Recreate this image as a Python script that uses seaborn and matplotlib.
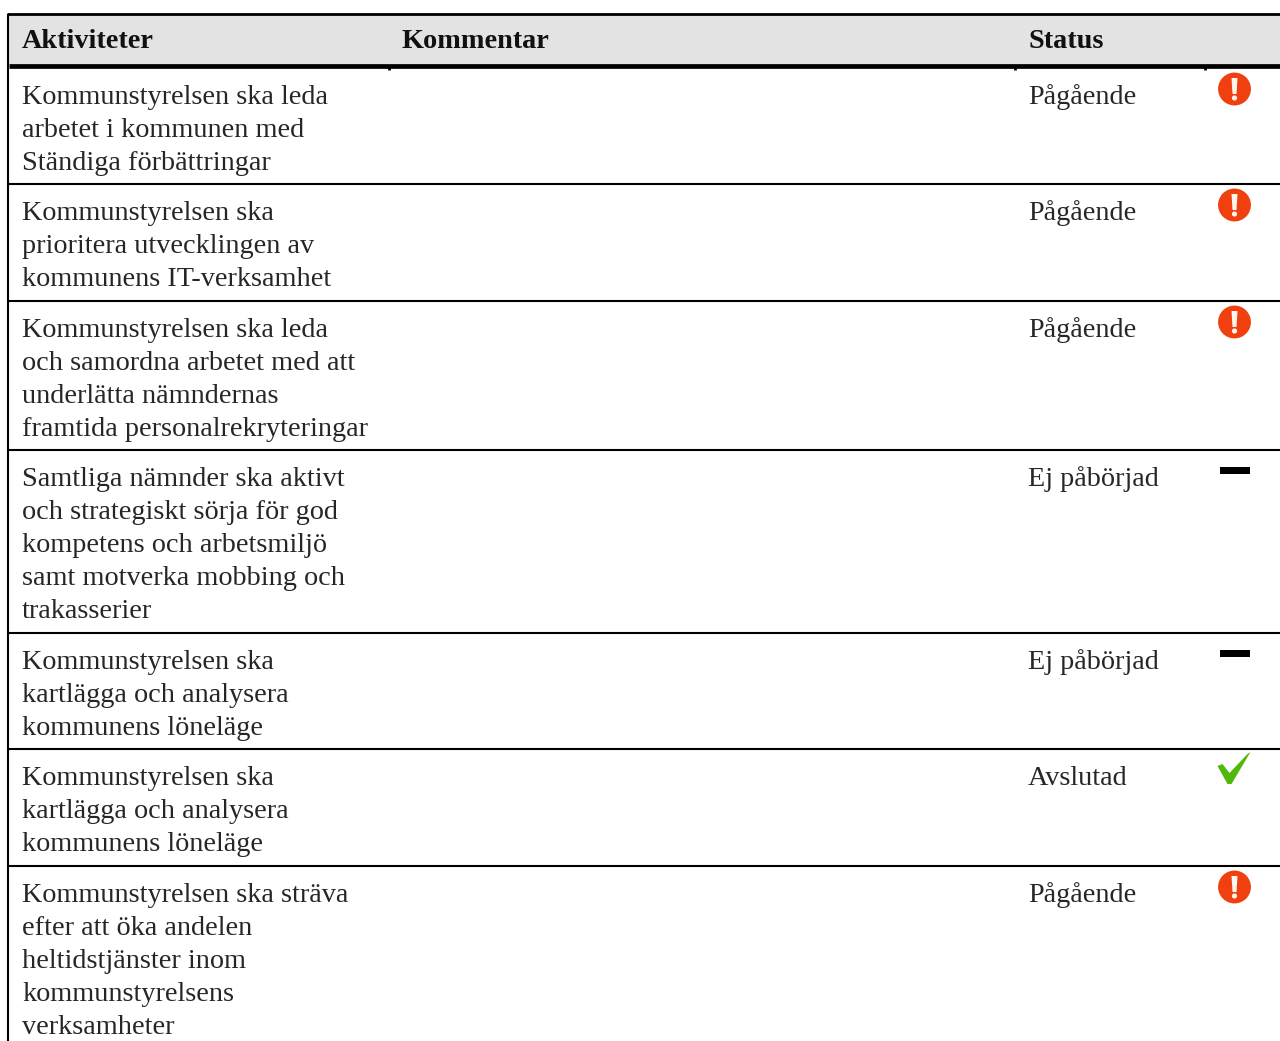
import matplotlib
matplotlib.use("Agg")
import matplotlib.pyplot as plt
import pandas as pd
import seaborn as sns
from matplotlib.patches import Rectangle

headers = ["Aktiviteter", "Kommentar", "Status"]
activities = [
    ["Kommunstyrelsen ska leda", "arbetet i kommunen med", "Ständiga förbättringar"],
    ["Kommunstyrelsen ska", "prioritera utvecklingen av", "kommunens IT-verksamhet"],
    ["Kommunstyrelsen ska leda", "och samordna arbetet med att", "underlätta nämndernas", "framtida personalrekryteringar"],
    ["Samtliga nämnder ska aktivt", "och strategiskt sörja för god", "kompetens och arbetsmiljö", "samt motverka mobbing och", "trakasserier"],
    ["Kommunstyrelsen ska", "kartlägga och analysera", "kommunens löneläge"],
    ["Kommunstyrelsen ska", "kartlägga och analysera", "kommunens löneläge"],
    ["Kommunstyrelsen ska sträva", "efter att öka andelen", "heltidstjänster inom", "kommunstyrelsens", "verksamheter"],
]
statuses = ["Pågående", "Pågående", "Pågående", "Ej påbörjad", "Ej påbörjad", "Avslutad", "Pågående"]
row_tops = [68, 184, 301, 450, 633, 749, 866]
icon_offset = {"Pågående": 21, "Ej påbörjad": 20, "Avslutad": 20}

FONT = "Liberation Serif"
FS = 20.3
COL_X = [22, 401, 1028]
ICON_X = 1234.5

sns.set_theme(style="white")
plt.rcParams["font.family"] = [FONT, "DejaVu Sans"]

fig = plt.figure(figsize=(12.8, 10.41), dpi=100)
ax = fig.add_axes([0, 0, 1, 1])
ax.set_xlim(0, 1280)
ax.set_ylim(1041, 0)
ax.axis("off")

# header band and rules
ax.add_patch(Rectangle((9, 14), 1271, 51, color="#e3e3e3", lw=0, zorder=0))
ax.hlines(14.3, 7, 1280, color="black", lw=2.0)
ax.hlines(66.4, 9, 1280, color="black", lw=3.4)
ax.vlines(8, 13.5, 1041, color="black", lw=1.5)
ax.hlines(row_tops[1:], 9, 1280, color="black", lw=1.5)
for x0 in (389, 1015, 1205):
    ax.vlines(x0, 67, 69.5, color="black", lw=2.0)

for x, h in zip(COL_X, headers):
    ax.text(x, 48.5, h, fontsize=FS, fontweight="bold", color="#111111", va="baseline")

for top, lines, status in zip(row_tops, activities, statuses):
    for i, line in enumerate(lines):
        ax.text(COL_X[0], top + 36 + i * 33, line, fontsize=FS, color="#262626", va="baseline")
    ax.text(COL_X[2], top + 36, status, fontsize=FS, color="#262626", va="baseline")

df = pd.DataFrame({"status": statuses, "top": row_tops})
df["x"] = ICON_X
df["y"] = df["top"] + df["status"].map(icon_offset)

dash = [(-15, -3.5), (15, -3.5), (15, 3.5), (-15, 3.5)]
check = [(-17, 3), (-12, 5), (-5, -4), (13, 15), (16, 17), (-3, -15), (-7, -15)]
stem = [(-3, 8), (3, 8), (2, -8), (-2, -8)]

pag = df[df["status"] == "Pågående"]
sns.scatterplot(data=pag, x="x", y="y", ax=ax, marker="o", s=560, color="#f0400f",
                edgecolor="none", legend=False, zorder=3)
stem_df = pag.assign(y=pag["y"] - 3)
sns.scatterplot(data=stem_df, x="x", y="y", ax=ax, marker=stem, s=(2 * 8 * 0.72) ** 2, color="#fff4ee",
                edgecolor="none", legend=False, zorder=4)
dot_df = pag.assign(y=pag["y"] + 9)
sns.scatterplot(data=dot_df, x="x", y="y", ax=ax, marker="o", s=14, color="#fff4ee",
                edgecolor="none", legend=False, zorder=4)
sns.scatterplot(data=df[df["status"] == "Ej påbörjad"], x="x", y="y", ax=ax, marker=dash,
                s=(2 * 15 * 0.72) ** 2, color="black", edgecolor="none", legend=False, zorder=3)
avs = df[df["status"] == "Avslutad"]
sns.scatterplot(data=avs, x="x", y="y", ax=ax, marker=check, s=(2 * 17 * 0.72) ** 2,
                color="#4fb80a", edgecolor="none", legend=False, zorder=3)
ax.set_xlabel("")
ax.set_ylabel("")
ax.set_xlim(0, 1280)
ax.set_ylim(1041, 0)
fig.savefig("out.png", dpi=100, facecolor="white")
